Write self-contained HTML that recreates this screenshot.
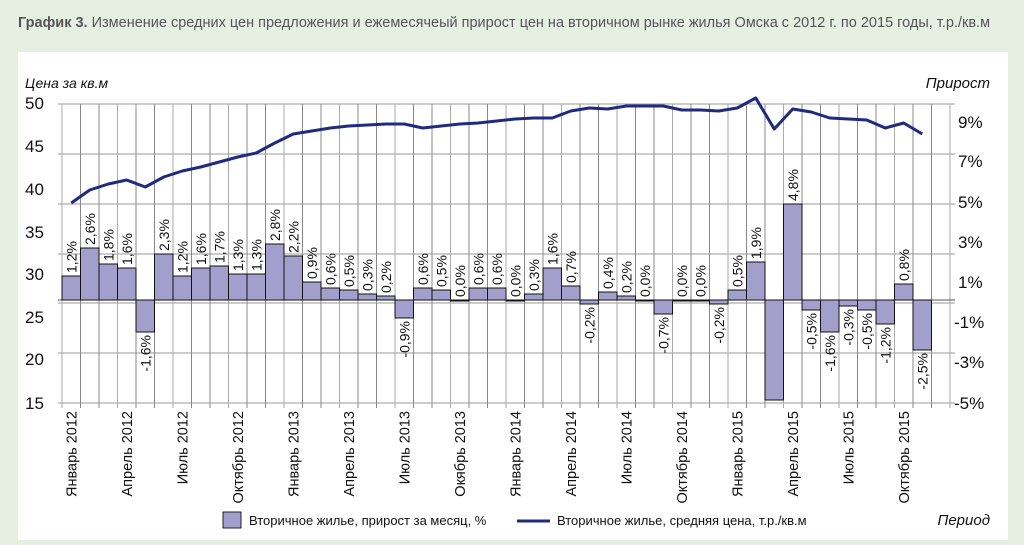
<!DOCTYPE html>
<html><head><meta charset="utf-8">
<style>
html,body{margin:0;padding:0;background:#e5f0e3;}
svg{display:block;font-family:"Liberation Sans","DejaVu Sans",sans-serif;}
</style></head>
<body>
<svg id="s" width="1024" height="545" viewBox="0 0 1024 545" xmlns="http://www.w3.org/2000/svg">
<rect x="0" y="0" width="1024" height="545" fill="#e5f0e3"/>
<text x="18" y="27" font-size="14.5" fill="#555"><tspan font-weight="bold">График 3.</tspan> Изменение средних цен предложения и ежемесячеый прирост цен на вторичном рынке жилья Омска с 2012 г. по 2015 годы, т.р./кв.м</text>
<rect x="18" y="52" width="990" height="488" fill="#fff"/>
<g id="grid"></g>
<g id="bars"></g>
<g id="labels" font-size="14" fill="#111"></g>
<polyline id="line" fill="none" stroke="#1f2a80" stroke-width="3" stroke-linejoin="round"/>
<g font-size="17" fill="#111">
<text x="25" y="109">50</text><text x="25" y="152">45</text><text x="25" y="195">40</text><text x="25" y="238">35</text>
<text x="25" y="280">30</text><text x="25" y="323">25</text><text x="25" y="365">20</text><text x="25" y="409">15</text>
<text x="958" y="128">9%</text><text x="958" y="167">7%</text><text x="958" y="208">5%</text><text x="958" y="248">3%</text>
<text x="958" y="288">1%</text><text x="954" y="328">-1%</text><text x="954" y="368">-3%</text><text x="954" y="409">-5%</text>
</g>
<text x="25" y="88" font-size="14" font-style="italic" fill="#111">Цена за кв.м</text>
<text x="990" y="88" font-size="15" font-style="italic" fill="#111" text-anchor="end">Прирост</text>
<g id="xl" font-size="14.5" fill="#111"></g>
<rect x="223" y="512" width="18" height="16" fill="#a29fcc" stroke="#222" stroke-width="1"/>
<text x="249" y="525" font-size="13" fill="#111">Вторичное жилье, прирост за месяц, %</text>
<line x1="517" y1="521" x2="550" y2="521" stroke="#1f2a80" stroke-width="3"/>
<text x="557" y="525" font-size="13" fill="#111">Вторичное жилье, средняя цена, т.р./кв.м</text>
<text x="990" y="525" font-size="15" font-style="italic" fill="#111" text-anchor="end">Период</text>
</svg>
<script>
var NS="http://www.w3.org/2000/svg";
function el(p,t,a,txt){var e=document.createElementNS(NS,t);for(var k in a)e.setAttribute(k,a[k]);if(txt!==undefined)e.textContent=txt;document.getElementById(p).appendChild(e);return e;}
var x0=62,w=18.5,z=300;
var grid="grid";
[104,154,204,254,303,353,403].forEach(function(y){el(grid,"line",{x1:58,x2:955,y1:y,y2:y,stroke:"#999","stroke-width":1});});
for(var i=0;i<=48;i++){var x=x0+w*i;el(grid,"line",{x1:x,x2:x,y1:104,y2:408,stroke:(i%3==0?"#aaa":"#888"),"stroke-width":1});}
el(grid,"line",{x1:58,x2:955,y1:z,y2:z,stroke:"#555","stroke-width":1});
var v=[1.2,2.6,1.8,1.6,-1.6,2.3,1.2,1.6,1.7,1.3,1.3,2.8,2.2,0.9,0.6,0.5,0.3,0.2,-0.9,0.6,0.5,0.0,0.6,0.6,0.0,0.3,1.6,0.7,-0.2,0.4,0.2,0.0,-0.7,0.0,0.0,-0.2,0.5,1.9,-5,4.8,-0.5,-1.6,-0.3,-0.5,-1.2,0.8,-2.5];
v.forEach(function(val,i){
 var x=x0+w*i,h=Math.abs(val)*20,y=val>=0?z-h:z;
 el("bars","rect",{x:x,y:y,width:w,height:Math.max(h,1),fill:"#a29fcc",stroke:"#111","stroke-width":1});
 if(i==38)return;
 var s=val.toFixed(1).replace(".",",")+"%";
 var cx=x+w/2+5;
 if(val>=0){el("labels","text",{transform:"translate("+cx+","+(y-3)+") rotate(-90)","text-anchor":"start"},s);}
 else{el("labels","text",{transform:"translate("+cx+","+(y+h+3)+") rotate(-90)","text-anchor":"end"},s);}
});
var py=[203,190,184,180,187,177,171,167,162,157,153,143,134,131,128,126,125,124,124,128,126,124,123,121,119,118,118,111,108,109,106,106,106,110,110,111,108,98,129,109,112,118,119,120,128,123,134];
document.getElementById("line").setAttribute("points",py.map(function(y,i){return (x0+w*i+w/2)+","+y;}).join(" "));
var m=["Январь","Апрель","Июль","Октябрь"],m13=["Январь","Апрель","Июль","Окябрь"];
for(var k=0;k<16;k++){var yr=2012+Math.floor(k/4);var name=(yr==2013?m13:m)[k%4]+" "+yr;var cx=x0+w*(3*k)+w/2+5;
 el("xl","text",{transform:"translate("+cx+",411) rotate(-90)","text-anchor":"end"},name);}
</script>
</body></html>
